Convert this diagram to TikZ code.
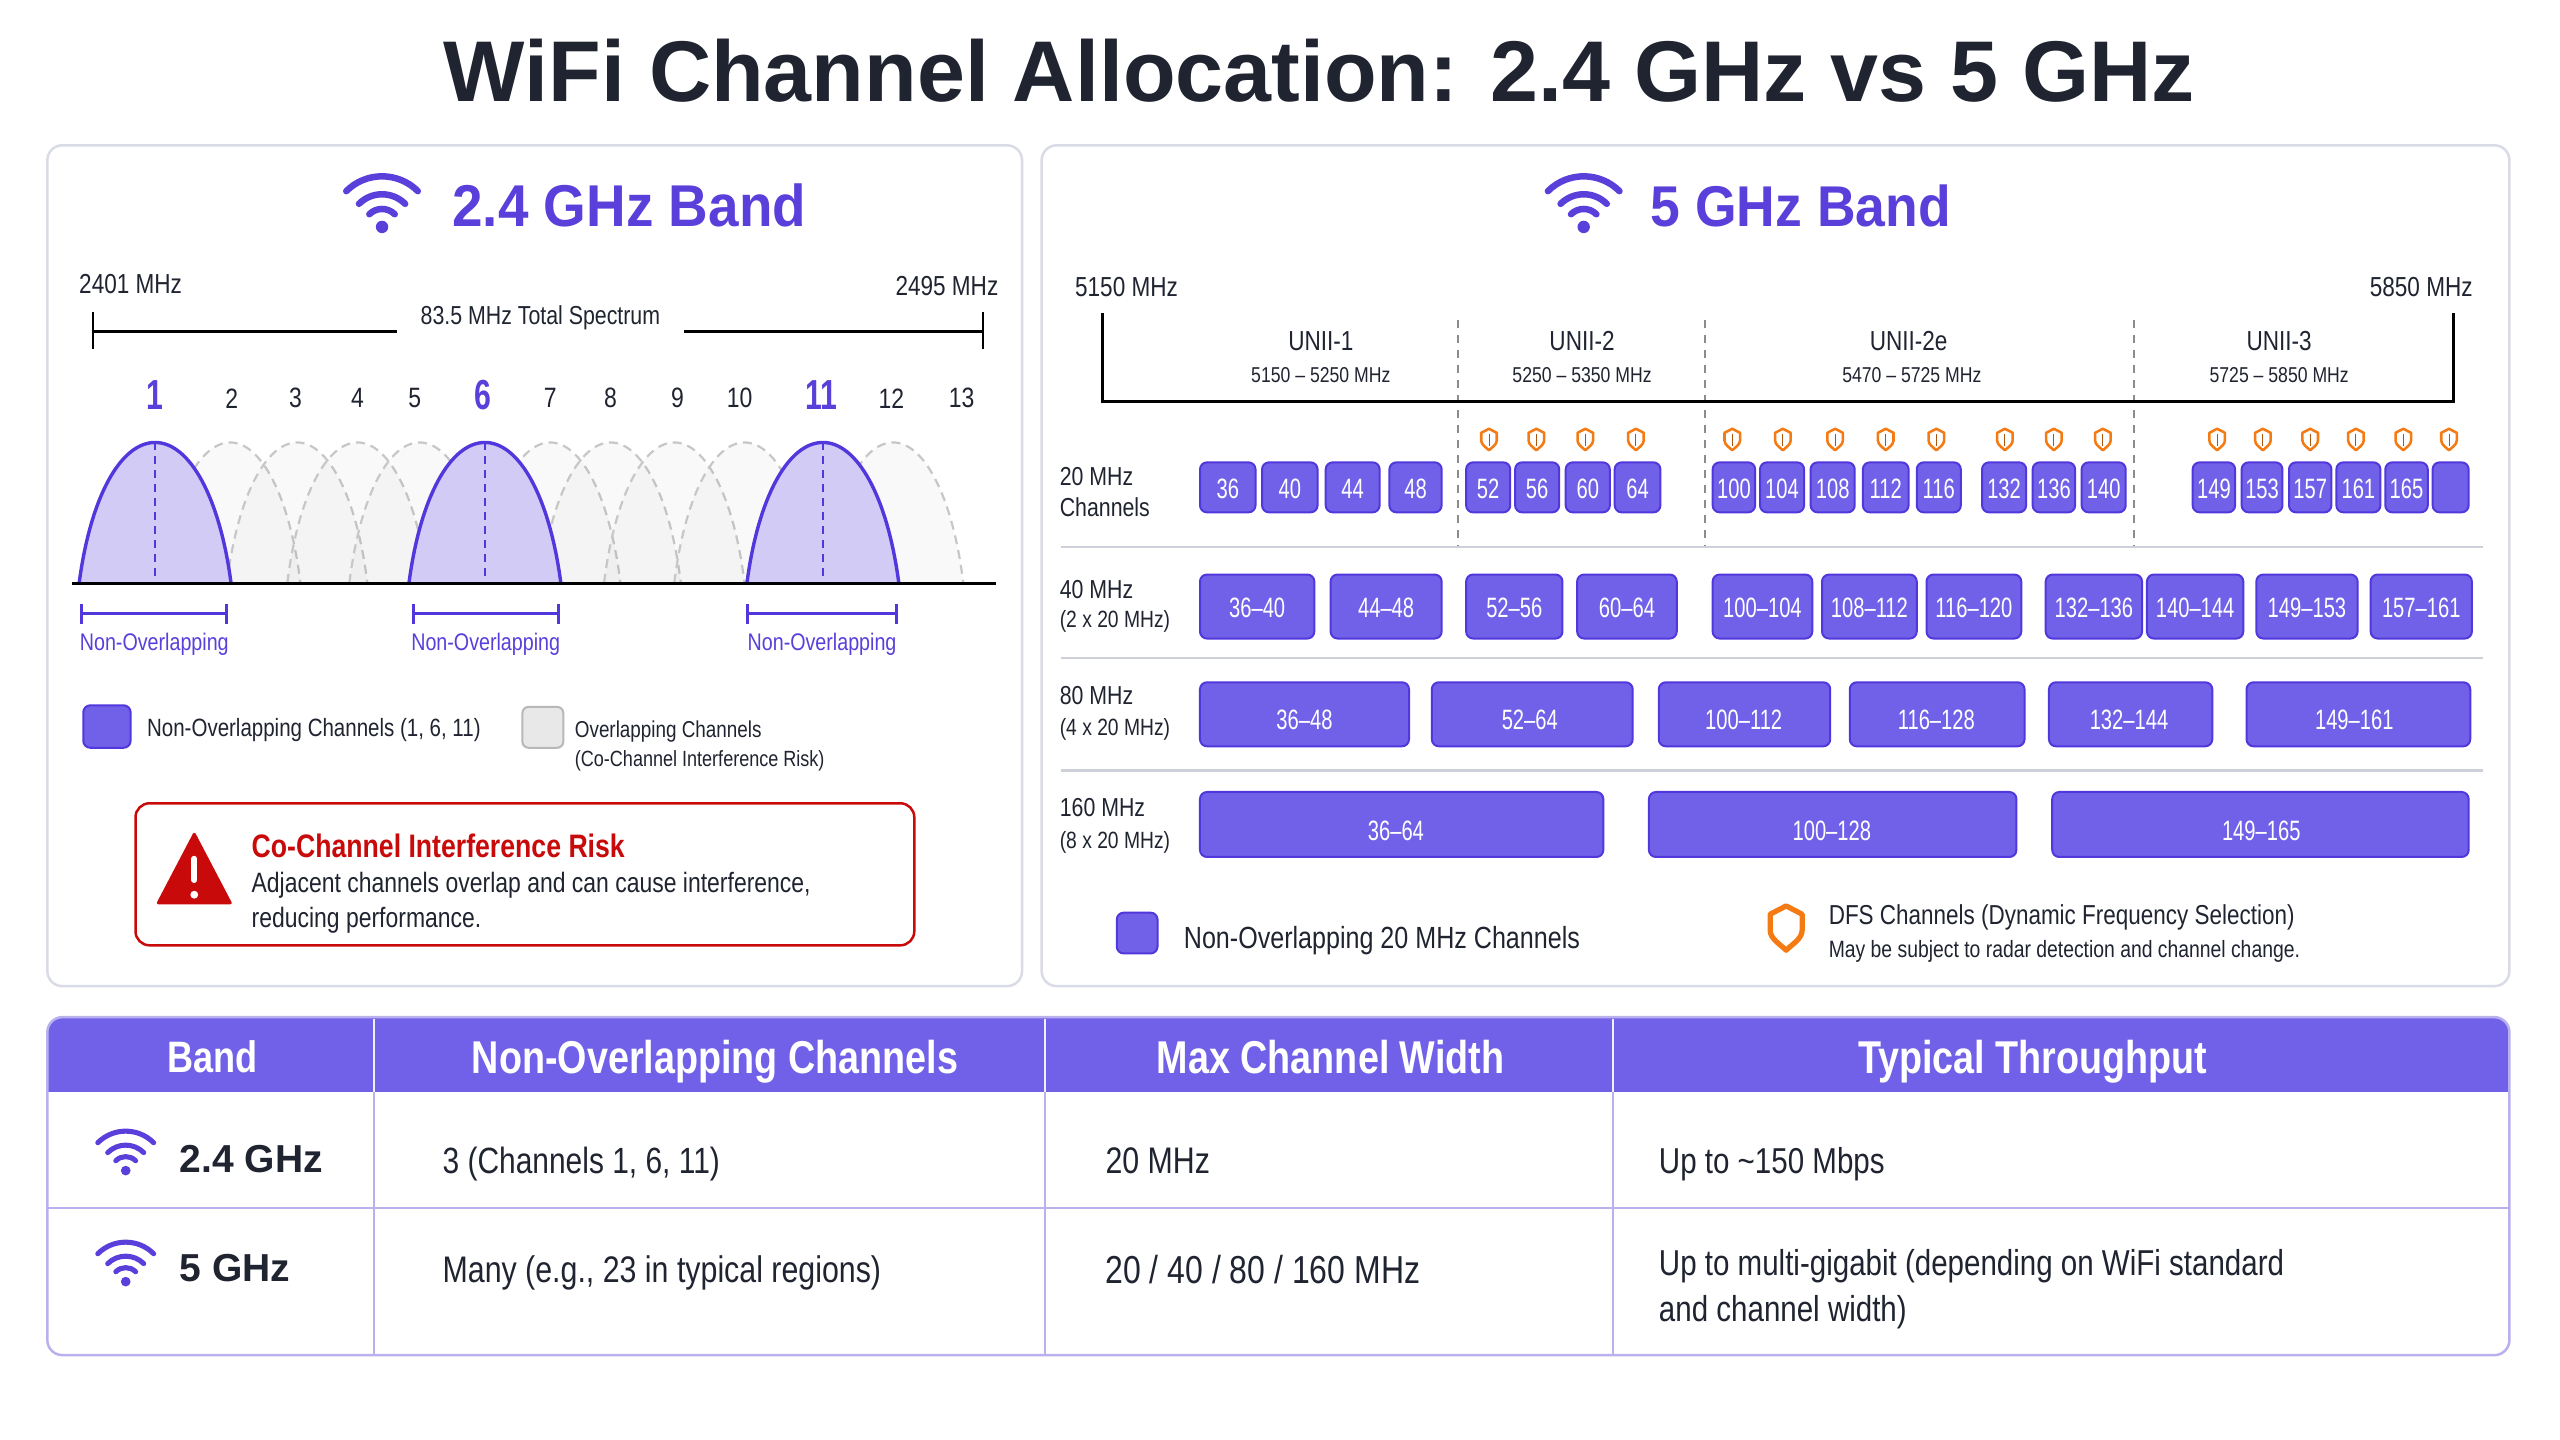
\documentclass[tikz,border=0pt]{standalone}
\usepackage{fontspec}
\setmainfont[FakeStretch=0.82]{Liberation Sans}
\newfontfamily\headfont{Liberation Sans}
\newfontfamily\bandfont[FakeStretch=0.93]{Liberation Sans}
\newfontfamily\chipfont[FakeStretch=0.72]{Liberation Sans}
\usetikzlibrary{calc}
\definecolor{ink}{HTML}{1F2430}
\definecolor{violet}{HTML}{5A3FDB}
\definecolor{chipfill}{HTML}{7161E8}
\definecolor{chipline}{HTML}{5038DC}
\definecolor{softviolet}{HTML}{D2CBF6}
\definecolor{panelline}{HTML}{D9DCE6}
\definecolor{sepline}{HTML}{CDCFD9}
\definecolor{tabline}{HTML}{B9B1EE}
\definecolor{dfsorange}{HTML}{F47B14}
\definecolor{alertred}{HTML}{C80A0A}
\newcommand{\fs}[1]{\fontsize{#1}{#1}\selectfont}
\tikzset{
  pics/wifi/.style={code={
    \fill[violet] (0,0) circle ({3.8*#1});
    \foreach \r in {11,20,31}
      \draw[violet,line width={6.5*#1 pt},line cap=round] (225:{\r*#1}) arc[start angle=225,end angle=315,radius={\r*#1}];
  }},
  pics/shield/.style={code={
    \draw[dfsorange,line width={3*#1 pt},line join=round,fill=white] (0,{-7.5*#1}) -- ({5.6*#1},{-4.6*#1}) -- ({5.6*#1},{1*#1})
      .. controls ({5.6*#1},{4*#1}) and ({2*#1},{6*#1}) .. (0,{8*#1})
      .. controls ({-2*#1},{6*#1}) and ({-5.6*#1},{4*#1}) .. ({-5.6*#1},{1*#1}) -- ({-5.6*#1},{-4.6*#1}) -- cycle;
  }},
}
\begin{document}
\begin{tikzpicture}[
    x=1.63265pt,y=-1.63265pt,
    lbl/.style={inner sep=0,text=ink,font=\fs{26},yshift=-1.5pt},
    lft/.style={lbl,anchor=west},
    panel/.style={draw=panelline,line width=2.5pt,fill=white,rounded corners=15pt},
    bandtitle/.style={inner sep=0,anchor=west,text=violet,font=\bandfont\bfseries\fs{#1}},
    chip/.style={draw=chipline,line width=2pt,fill=chipfill,rounded corners=7pt,inner sep=0},
    chiptxt/.style={inner sep=0,text=white,font=\chipfont\fs{28},yshift=-1pt},
    greyhump/.style={draw=black!22,line width=2.2pt,dash pattern=on 9pt off 6pt,fill=black!40,fill opacity=0.05},
    hump/.style={draw=chipline,line width=3.4pt,fill=softviolet},
    nonover/.style={draw=chipline,line width=3pt},
    sep/.style={draw=sepline,line width=2.5pt},
    unii/.style={draw=black!45,line width=2pt,dash pattern=on 8pt off 7pt},
    thead/.style={inner sep=0,text=white,font=\bfseries\fs{#1},yshift=-2pt,execute at begin node={\vphantom{(g}}},
    tcell/.style={lft,font=\fs{#1},yshift=-3pt,execute at begin node={\vphantom{(g}}},
    tband/.style={lft,font=\headfont\bfseries\fs{39}},
    ]
    \useasboundingbox (0,0) rectangle (1568,882);
    \fill[white] (0,0) rectangle (1568,882);
    \node[inner sep=0,text=ink,font=\headfont\bfseries\fs{86.2}] (title) at (808,43) {WiFi Channel Allocation: 2.4 GHz vs 5 GHz};
    % panels
    \draw[panel] (29,89) rectangle (626,604);
    \draw[panel] (638,89) rectangle (1537,604);
    % 2.4 GHz band
    \pic at (234,139) {wifi=1};
    \node[bandtitle=59] (band24) at (277,126) {2.4 GHz Band};
    \node[lbl,font=\fs{27.5}] (lo24) at (80,173) {2401 MHz};
    \node[lbl,font=\fs{27.5}] (hi24) at (580,174) {2495 MHz};
    \node[lbl] (span24) at (331,194) {83.5 MHz Total Spectrum};
    \draw[line width=2.5pt] (57,191) -- (57,214);
    \draw[line width=2.5pt] (57,203) -- (243,203);
    \draw[line width=2.5pt] (419,203) -- (602,203);
    \draw[line width=2.5pt] (602,191) -- (602,214);
    \foreach \c in {141,182,219,257,337,374,413,456,547}
      \draw[greyhump] ({\c-43},357) .. controls ({\c-36.5},304) and ({\c-19},271) .. (\c,271)
        .. controls ({\c+19},271) and ({\c+36.5},304) .. ({\c+43},357);
    \foreach \c/\n in {95/a,297/b,504/c}{
      \draw[hump] ({\c-46.5},357) .. controls ({\c-39.5},304) and ({\c-21},271) .. (\c,271)
        .. controls ({\c+21},271) and ({\c+39.5},304) .. ({\c+46.5},357);
      \draw[chipline,line width=1.8pt,dash pattern=on 8pt off 6pt] (\c,271) -- (\c,357);
    }
    \draw[line width=3.5pt] (44,357.5) -- (610,357.5);
    \foreach \x/\t in {142/2,181/3,219/4,254/5,337/7,374/8,415/9,453/10,546/12,589/13}
      \node[lbl,font=\fs{28}] (ch\t) at (\x,243) {\t};
    \foreach \x/\t in {95/1,296/6,503/11}
      \node[inner sep=0,text=violet,font=\chipfont\bfseries\fs{42}] (ch\t) at (\x,242) {\t};
    \foreach \a/\b/\t in {50/139/a,253/342/b,458/549/c}{
      \draw[nonover] (\a,370) -- (\a,382);
      \draw[nonover] (\a,376) -- (\b,376);
      \draw[nonover] (\b,370) -- (\b,382);
      \node[inner sep=0,text=violet,font=\fs{24},yshift=-1.5pt] (nonover\t) at ({(\a+\b)/2},394) {Non-Overlapping};
    }
    % legend
    \draw[chip] (51,432) rectangle (80,458);
    \node[lft,font=\fs{25}] (leg1) at (90,446) {Non-Overlapping Channels (1, 6, 11)};
    \draw[draw=black!28,line width=2pt,fill=black!9,rounded corners=6pt] (320,433) rectangle (345,458);
    \node[lft,font=\fs{23}] (leg2) at (352,447) {Overlapping Channels};
    \node[lft,font=\fs{22}] (leg3) at (352,465) {(Co-Channel Interference Risk)};
    % alert
    \draw[draw=alertred,line width=2.5pt,fill=white,rounded corners=14pt] (83,492) rectangle (560,579);
    \fill[alertred,draw=alertred,line width=3pt,line join=round] (119,511) -- (141,553) -- (97,553) -- cycle;
    \draw[white,line width=6pt,line cap=round] (119,526) -- (119,539);
    \fill[white] (119,548) circle (2.4);
    \node[lft,text=alertred,font=\bfseries\fs{32.5}] (alert) at (154,517) {Co-Channel Interference Risk};
    \node[lft,font=\fs{28}] (alert1) at (154,541.5) {Adjacent channels overlap and can cause interference,};
    \node[lft,font=\fs{28}] (alert2) at (154,562.5) {reducing performance.};
    % 5 GHz band
    \pic at (970,139) {wifi=1};
    \node[bandtitle=57.5] (band5) at (1011,126) {5 GHz Band};
    \node[lbl,font=\fs{27.5}] (lo5) at (690,175) {5150 MHz};
    \node[lbl,font=\fs{27.5}] (hi5) at (1483,175) {5850 MHz};
    \foreach \x in {893,1044,1307}
      \draw[unii] (\x,196) -- (\x,335);
    \draw[line width=3pt] (675,192) -- (675,246) -- (1503,246) -- (1503,192);
    \foreach \x/\y/\t/\s in {809/809/1/5150 – 5250 MHz,969/969/2/5250 – 5350 MHz,1169/1171/2e/5470 – 5725 MHz,1396/1396/3/5725 – 5850 MHz}{
      \node[lbl,font=\fs{27.5}] (unii\t) at (\x,208) {UNII-\t};
      \node[lbl,font=\fs{21.5}] (range\t) at (\y,229) {\s};
    }
    \foreach \y in {335,403,472}
      \draw[sep] (650,\y) -- (1521,\y);
    % shields
    \foreach \x in {912,941,971,1002,1061,1092,1124,1155,1186,1228,1258,1288,1358,1386,1415,1443,1472,1500}{
      \pic at (\x,269) {shield=0.85};
      \draw[dfsorange!70!black,line width=1pt] (\x,266) -- (\x,273);
    }
    % channels
    \node[lft] (r20a) at (649,291) {20 MHz};
    \node[lft] (r20b) at (649,310) {Channels};
    \node[lft] (r40a) at (649,360) {40 MHz};
    \node[lft,font=\fs{23.5}] (r40b) at (649,380) {(2 x 20 MHz)};
    \node[lft] (r80a) at (649,425) {80 MHz};
    \node[lft,font=\fs{23.5}] (r80b) at (649,446) {(4 x 20 MHz)};
    \node[lft] (r160a) at (649,494) {160 MHz};
    \node[lft,font=\fs{23.5}] (r160b) at (649,515) {(8 x 20 MHz)};
    \foreach \a/\b/\t in {735/769/36,773/807/40,812/845/44,851/883/48,898/925/52,928/955/56,959/986/60,989/1017/64,
        1049/1075/100,1078/1105/104,1109/1136/108,1141/1169/112,1174/1201/116,1214/1241/132,1245/1271/136,1275/1302/140,
        1343/1369/149,1373/1398/153,1402/1428/157,1431/1458/161,1461/1487/165}{
      \node[chip,minimum width={(\b-\a)*1.633pt},minimum height=50pt] (cA\t) at ({(\a+\b)/2},298.5) {};
      \node[chiptxt] at ({(\a+\b)/2},299) {\t};
    }
    \node[chip,minimum width=36pt,minimum height=50pt] (cAx) at (1501,298.5) {};
    \foreach \a/\b/\t in {735/805/36–40,815/883/44–48,898/957/52–56,966/1027/60–64,1049/1110/100–104,1116/1174/108–112,
        1180/1238/116–120,1253/1312/132–136,1315/1374/140–144,1382/1444/149–153,1452/1514/157–161}{
      \node[chip,minimum width={(\b-\a)*1.633pt},minimum height=64pt] (cB\a) at ({(\a+\b)/2},371.5) {};
      \node[chiptxt] at ({(\a+\b)/2},372) {\t};
    }
    \foreach \a/\b/\m/\t in {735/863/799/36–48,877/1000/937/52–64,1016/1121/1068/100–112,1133/1240/1186/116–128,1255/1355/1304/132–144,1376/1513/1442/149–161}{
      \node[chip,minimum width={(\b-\a)*1.633pt},minimum height=64pt] (cC\a) at ({(\a+\b)/2},437.5) {};
      \node[chiptxt] at (\m,440) {\t};
    }
    \foreach \a/\b/\m/\t in {735/982/855/36–64,1010/1235/1122/100–128,1257/1512/1385/149–165}{
      \node[chip,minimum width={(\b-\a)*1.633pt},minimum height=65pt] (cD\a) at ({(\a+\b)/2},505) {};
      \node[chiptxt] at (\m,508) {\t};
    }
    % legend
    \draw[chip] (684,559) rectangle (709,584);
    \node[lft,font=\fs{30.6}] (leg4) at (725,575) {Non-Overlapping 20 MHz Channels};
    \pic at (1094,568) {shield=1.75};
    \node[lft,font=\fs{27.4}] (leg5) at (1120,561) {DFS Channels (Dynamic Frequency Selection)};
    \node[lft,font=\fs{23.6}] (leg6) at (1120,582) {May be subject to radar detection and channel change.};
    % table
    \begin{scope}
      \clip[rounded corners=15pt] (29,623) rectangle (1537,830);
      \fill[white] (29,623) rectangle (1537,830);
      \fill[chipfill] (29,623) rectangle (1537,669);
    \end{scope}
    \draw[tabline,line width=2pt] (29,740) -- (1537,740);
    \foreach \x in {229,640,988}{
      \draw[tabline,line width=2pt] (\x,669) -- (\x,830);
      \draw[white!80!tabline,line width=2pt] (\x,624) -- (\x,669);
    }
    \draw[tabline,line width=2.5pt,rounded corners=15pt] (29,623) rectangle (1537,830);
    \node[thead=44] (h1) at (130,649) {Band};
    \node[thead=46] (h2) at (438,649) {Non-Overlapping Channels};
    \node[thead=46] (h3) at (815,649) {Max Channel Width};
    \node[thead=46] (h4) at (1245,649) {Typical Throughput};
    \pic at (77,717) {wifi=0.78};
    \node[tband] (b24) at (110,709) {2.4 GHz};
    \pic at (77,785) {wifi=0.78};
    \node[tband] (b5) at (110,776) {5 GHz};
    \node[tcell=36.5] (c12) at (271,710) {3 (Channels 1, 6, 11)};
    \node[tcell=37] (c22) at (271,777) {Many (e.g., 23 in typical regions)};
    \node[tcell=37] (c13) at (677,710) {20 MHz};
    \node[tcell=39] (c23) at (677,777) {20 / 40 / 80 / 160 MHz};
    \node[tcell=36] (c14) at (1016,710) {Up to \textasciitilde150 Mbps};
    \node[tcell=36] (c24) at (1016,773) {Up to multi-gigabit (depending on WiFi standard};
    \node[tcell=36] (c34) at (1016,801) {and channel width)};
  \end{tikzpicture}
\end{document}
